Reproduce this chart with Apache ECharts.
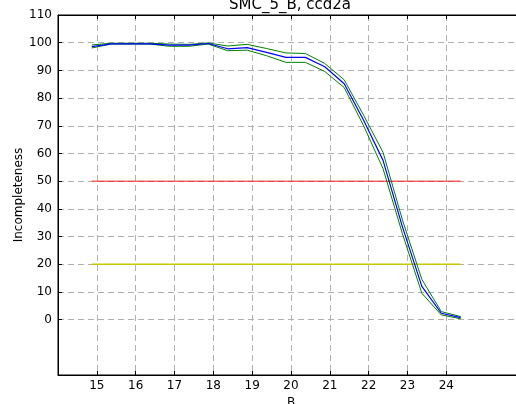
<!DOCTYPE html>
<html>
<head>
<meta charset="utf-8">
<script src="https://cdn.jsdelivr.net/npm/echarts@6/dist/echarts.min.js"></script>
<style>
  html, body { margin: 0; padding: 0; background: #fff; }
  #chart { width: 516px; height: 404px; }
</style>
</head>
<body>
<div id="chart"></div>
<script>
// magnitude bins (B)
var mags = [14.87, 15.37, 15.87, 16.37, 16.87, 17.37, 17.87, 18.37, 18.87, 19.37,
            19.87, 20.37, 20.87, 21.37, 21.87, 22.37, 22.87, 23.37, 23.87, 24.37];
var incomp = [98.6, 99.6, 99.6, 99.6, 99.1, 99.1, 99.7, 97.8, 98.2, 96.5,
              94.7, 94.7, 91.3, 85.2, 72.0, 57.5, 33.5, 12.0, 2.3, 0.7];
var incompHi = [99.2, 99.8, 99.8, 99.8, 99.5, 99.4, 99.9, 98.8, 99.4, 97.9,
                96.3, 96.1, 92.5, 86.6, 73.8, 60.4, 36.0, 14.5, 2.9, 1.1];
var incompLo = [98.1, 99.5, 99.5, 99.5, 98.7, 98.7, 99.5, 97.1, 97.3, 95.3,
                92.9, 92.9, 89.6, 83.8, 70.0, 54.5, 31.0, 9.5, 1.7, 0.3];
var levels = [50, 20];
var xTicks = [15, 16, 17, 18, 19, 20, 21, 22, 23, 24];
var yTicks = [0, 10, 20, 30, 40, 50, 60, 70, 80, 90, 100, 110];

function pairs(ys) {
  return mags.map(function (m, i) { return [m, ys[i]]; });
}
function flat(v) {
  return [[mags[0], v], [mags[mags.length - 1], v]];
}

var chart = echarts.init(document.getElementById('chart'), null, { renderer: 'canvas' });
var font = 'DejaVu Sans';

var option = {
  backgroundColor: '#ffffff',
  animation: false,
  title: {
    text: 'SMC_5_B, ccd2a',
    left: 229,
    top: -3,
    padding: 0,
    textStyle: { fontFamily: font, fontSize: 15, fontWeight: 'normal', color: '#000', lineHeight: 16 }
  },
  grid: {
    left: 58, top: 15, width: 466, height: 360,
    outerBoundsMode: 'none', containLabel: false,
    show: true, borderColor: '#000', borderWidth: 1
  },
  xAxis: [{
    type: 'value', min: 14, max: 26, interval: 1,
    name: 'B', nameLocation: 'middle', nameGap: 22, nameMoveOverlap: false,
    nameTextStyle: { fontFamily: font, fontSize: 12, color: '#000' },
    axisLine: { onZero: false, lineStyle: { color: '#000' } },
    axisTick: { inside: true, length: 4, customValues: xTicks, lineStyle: { color: '#000' } },
    axisLabel: { customValues: xTicks, fontFamily: font, fontSize: 12, color: '#000', margin: 5 },
    splitLine: { show: true, lineStyle: { color: '#b0b0b0', type: [6, 4], width: 1 } }
  }, {
    type: 'value', min: 14, max: 26, interval: 1, position: 'top',
    axisLine: { onZero: false, lineStyle: { color: '#000' } },
    axisTick: { inside: true, length: 4, customValues: xTicks, lineStyle: { color: '#000' } },
    axisLabel: { show: false },
    splitLine: { show: false }
  }],
  yAxis: {
    type: 'value', min: -20, max: 110, interval: 10,
    name: 'Incompleteness', nameLocation: 'middle', nameGap: 33, nameMoveOverlap: false,
    nameTextStyle: { fontFamily: font, fontSize: 12, color: '#000' },
    axisLine: { onZero: false, lineStyle: { color: '#000' } },
    axisTick: { inside: true, length: 4, customValues: yTicks, lineStyle: { color: '#000' } },
    axisLabel: { customValues: yTicks, fontFamily: font, fontSize: 12, color: '#000', margin: 6 },
    splitLine: { show: true, lineStyle: { color: '#b0b0b0', type: [6, 4], width: 1 } }
  },
  series: [{
    type: 'line', data: flat(levels[0]), symbol: 'none',
    lineStyle: { color: 'rgba(255,0,0,0.6)', width: 1.5 }
  }, {
    type: 'line', data: flat(levels[1]), symbol: 'none',
    lineStyle: { color: '#c8c800', width: 1.5 }
  }, {
    type: 'line', data: pairs(incompHi), symbol: 'none',
    lineStyle: { color: '#008000', width: 1 }
  }, {
    type: 'line', data: pairs(incompLo), symbol: 'none',
    lineStyle: { color: '#008000', width: 1 }
  }, {
    type: 'line', data: pairs(incomp), symbol: 'none',
    lineStyle: { color: '#0000ff', width: 1.2 }
  }]
};

chart.setOption(option);
</script>
</body>
</html>
